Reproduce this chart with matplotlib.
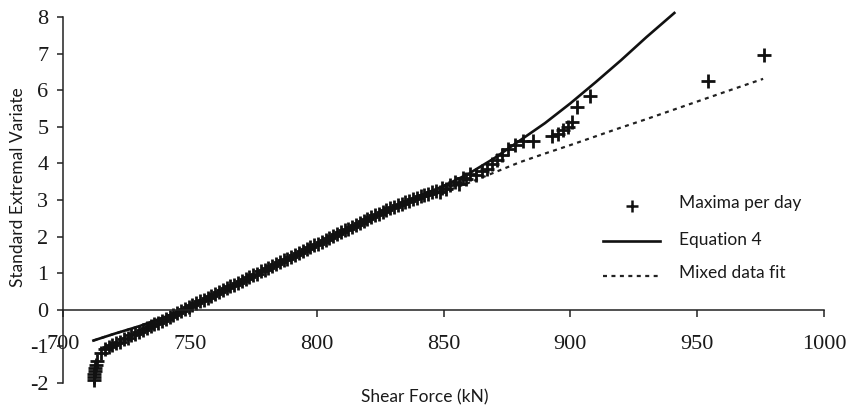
import matplotlib
matplotlib.use("Agg")
import matplotlib.pyplot as plt
from matplotlib.lines import Line2D

# Daily maxima of shear force (kN) against the standard extremal variate
maxima_kn = [
    712.2, 712.3, 712.4, 712.5, 712.7, 712.9, 713.5, 715.0, 716.5, 718.0,
    719.5, 721.0, 722.5, 724.0, 725.5, 727.0, 728.5, 730.0, 731.5, 733.0,
    734.5, 736.0, 737.5, 739.0, 740.5, 742.0, 743.5, 745.0, 746.5, 748.0,
    749.5, 751.0, 752.5, 754.0, 755.5, 757.0, 758.5, 760.0, 761.5, 763.0,
    764.5, 766.0, 767.5, 769.0, 770.5, 772.0, 773.5, 775.0, 776.5, 778.0,
    779.5, 781.0, 782.5, 784.0, 785.5, 787.0, 788.5, 790.0, 791.5, 793.0,
    794.5, 796.0, 797.5, 799.0, 800.5, 802.0, 803.5, 805.0, 806.5, 808.0,
    809.5, 811.0, 812.5, 814.0, 815.5, 817.0, 818.5, 820.0, 821.5, 823.0,
    824.5, 826.0, 827.5, 829.0, 830.5, 832.0, 833.5, 835.0, 836.5, 838.0,
    839.5, 841.0, 842.5, 844.0, 845.5, 847.0, 848.5, 849.5, 851.0, 852.5,
    854.5, 856.0, 857.5, 859.0, 860.5, 863.0, 865.0, 867.0, 869.0, 871.0,
    873.0, 875.5, 878.0, 881.5, 885.4, 892.6, 895.0, 897.0, 899.0, 900.5,
    902.5, 907.7, 954.3, 976.3,
]
maxima_var = [
    -1.92, -1.84, -1.76, -1.68, -1.60, -1.52, -1.40, -1.18, -1.08, -1.01,
    -0.97, -0.92, -0.87, -0.81, -0.76, -0.70, -0.65, -0.60, -0.55, -0.50,
    -0.45, -0.40, -0.35, -0.30, -0.25, -0.20, -0.15, -0.09, -0.03, 0.03,
    0.08, 0.13, 0.18, 0.23, 0.28, 0.33, 0.39, 0.44, 0.49, 0.54,
    0.59, 0.64, 0.69, 0.74, 0.79, 0.84, 0.89, 0.94, 0.99, 1.05,
    1.10, 1.15, 1.20, 1.25, 1.30, 1.35, 1.40, 1.45, 1.50, 1.55,
    1.60, 1.66, 1.71, 1.76, 1.81, 1.86, 1.91, 1.96, 2.01, 2.06,
    2.12, 2.17, 2.22, 2.27, 2.32, 2.38, 2.43, 2.48, 2.53, 2.58,
    2.63, 2.68, 2.73, 2.77, 2.82, 2.86, 2.90, 2.94, 2.98, 3.02,
    3.06, 3.10, 3.13, 3.17, 3.21, 3.25, 3.22, 3.33, 3.30, 3.40,
    3.50, 3.45, 3.60, 3.57, 3.70, 3.68, 3.80, 3.86, 3.97, 4.08,
    4.22, 4.38, 4.50, 4.62, 4.62, 4.75, 4.81, 4.90, 5.00, 5.13,
    5.55, 5.84, 6.24, 6.95,
]

# Equation 4
eq4_kn = [712, 720, 730, 740, 750, 760, 770, 780, 790, 800, 810, 820, 830,
          840, 850, 860, 870, 880, 890, 900, 910, 920, 930, 941]
eq4_var = [-0.84, -0.66, -0.45, -0.20, 0.05, 0.40, 0.74, 1.08, 1.42, 1.76,
           2.10, 2.44, 2.78, 3.10, 3.38, 3.72, 4.14, 4.62, 5.10, 5.64,
           6.22, 6.82, 7.45, 8.11]

# Mixed data fit
mix_kn = [712, 720, 730, 740, 750, 760, 770, 780, 790, 800, 810, 820, 830,
          840, 850, 860, 870, 880, 890, 900, 910, 920, 930, 940, 950, 960, 976]
mix_var = [-0.84, -0.66, -0.45, -0.20, 0.05, 0.40, 0.74, 1.08, 1.42, 1.76,
           2.10, 2.44, 2.76, 3.02, 3.22, 3.47, 3.75, 4.03, 4.27, 4.50,
           4.74, 4.98, 5.21, 5.45, 5.69, 5.93, 6.31]

x_ticks = [700, 750, 800, 850, 900, 950, 1000]
y_ticks = [-2, -1, 0, 1, 2, 3, 4, 5, 6, 7, 8]

W, H = 847, 412
fig = plt.figure(figsize=(W / 100, H / 100), dpi=100)
ax = fig.add_axes([63 / W, (H - 383) / H, (824 - 63) / W, (383 - 17) / H])
ax.set_xlim(700, 1000)
ax.set_ylim(-2, 8)

ax.spines["top"].set_visible(False)
ax.spines["right"].set_visible(False)
ax.spines["bottom"].set_position(("data", 0))
for s in ("left", "bottom"):
    ax.spines[s].set_linewidth(1.1)
    ax.spines[s].set_color("#222222")

serif = "Liberation Serif"
ax.set_xticks(x_ticks)
ax.set_yticks(y_ticks)
ax.set_xticklabels([str(v) for v in x_ticks], fontfamily=serif, fontsize=16)
ax.set_yticklabels([str(v) for v in y_ticks], fontfamily=serif, fontsize=16)
ax.tick_params(axis="x", direction="out", length=5, width=1.1, pad=13,
               color="#222222", labelcolor="#1a1a1a")
ax.tick_params(axis="y", direction="out", length=4.5, width=1.1, pad=6,
               color="#222222", labelcolor="#1a1a1a")

ax.plot(mix_kn, mix_var, color="#222222", lw=1.6, dashes=(1.8, 2.0),
        clip_on=False)
ax.plot(eq4_kn, eq4_var, color="#111111", lw=1.9, clip_on=False)
ax.plot(maxima_kn, maxima_var, ls="none", marker="+", ms=10, mew=2.0,
        color="#111111", clip_on=False)

sans = "Lato"
fig.text(425 / W, 1 - 397 / H, "Shear Force (kN)", fontfamily=sans,
         fontsize=12.5, ha="center", va="center", color="#1a1a1a")
fig.text(18 / W, 1 - 187 / H, "Standard Extremal Variate", fontfamily=sans,
         fontsize=12.5, ha="center", va="center", rotation=90, color="#1a1a1a")


def fpt(x, y):
    return x / W, 1 - y / H


# Legend drawn in figure pixel positions
tf = fig.transFigure
mx, my = fpt(632, 206)
fig.add_artist(Line2D([mx], [my], transform=tf, ls="none", marker="+",
                      ms=9, mew=1.8, color="#111111"))
(x0, y1), (x1, _) = fpt(603, 241), fpt(660, 241)
fig.add_artist(Line2D([x0, x1], [y1, y1], transform=tf, color="#111111",
                      lw=1.9))
(x0, y2), (x1, _) = fpt(603, 276), fpt(660, 276)
fig.add_artist(Line2D([x0, x1], [y2, y2], transform=tf, color="#222222",
                      lw=1.6, dashes=(1.8, 2.0)))
for ty, label in ((203, "Maxima per day"), (240, "Equation 4"),
                  (273, "Mixed data fit")):
    fx, fy = fpt(679, ty)
    fig.text(fx, fy, label, fontfamily=sans, fontsize=12.5, ha="left",
             va="center", color="#1a1a1a")

fig.savefig("out.png", dpi=100)
